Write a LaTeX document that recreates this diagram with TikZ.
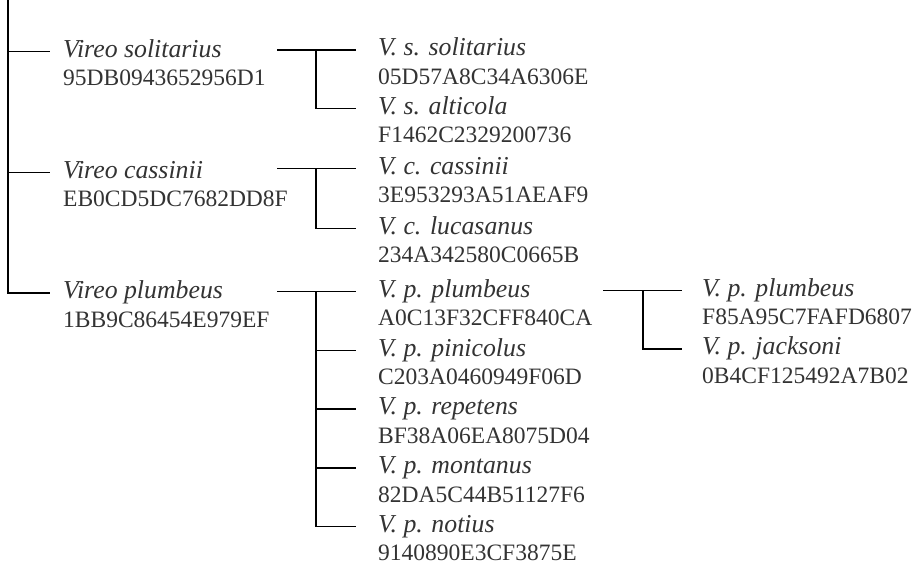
\documentclass[tikz,border=0pt]{standalone}
\usepackage{fontspec}
\setmainfont{Liberation Serif}
\begin{document}
\begin{tikzpicture}[x=1pt,y=-1pt,
  nm/.style={anchor=west, inner sep=0pt, text height=17.5pt, text depth=6pt,
    font=\fontsize{25.8}{30}\selectfont\itshape, text=black!80},
  cd/.style={anchor=base west, inner sep=0pt,
    font=\fontsize{23.5}{28}\selectfont, text=black!80},
  br/.style={line width=1.5pt, black},
  rootbr/.style={line width=2.2pt, black}]
\useasboundingbox (0,0) rectangle (923,567);
% ---------- level 1
\node[nm] (vs) at (63,51.5) {Vireo solitarius};
\node[cd] (vsc) at ([yshift=-28.5pt]vs.base west) {95DB0943652956D1};
\node[nm] (vc) at (63,172.5) {Vireo cassinii};
\node[cd] (vcc) at ([yshift=-28.5pt]vc.base west) {EB0CD5DC7682DD8F};
\node[nm] (vp) at (63,293) {Vireo plumbeus};
\node[cd] (vpc) at ([yshift=-28.5pt]vp.base west) {1BB9C86454E979EF};
% ---------- level 2
\node[nm] (ss) at (378,50) {V. s. solitarius};
\node[cd] (ssc) at ([yshift=-28.5pt]ss.base west) {05D57A8C34A6306E};
\node[nm] (sa) at (378,108.3) {V. s. alticola};
\node[cd] (sac) at ([yshift=-28.5pt]sa.base west) {F1462C2329200736};
\node[nm] (cc) at (378,168.3) {V. c. cassinii};
\node[cd] (ccc) at ([yshift=-28.5pt]cc.base west) {3E953293A51AEAF9};
\node[nm] (cl) at (378,228.3) {V. c. lucasanus};
\node[cd] (clc) at ([yshift=-28.5pt]cl.base west) {234A342580C0665B};
\node[nm] (p1) at (378,291.7) {V. p. plumbeus};
\node[cd] (p1c) at ([yshift=-28.5pt]p1.base west) {A0C13F32CFF840CA};
\node[nm] (p2) at (378,350.4) {V. p. pinicolus};
\node[cd] (p2c) at ([yshift=-28.5pt]p2.base west) {C203A0460949F06D};
\node[nm] (p3) at (378,409.1) {V. p. repetens};
\node[cd] (p3c) at ([yshift=-28.5pt]p3.base west) {BF38A06EA8075D04};
\node[nm] (p4) at (378,467.9) {V. p. montanus};
\node[cd] (p4c) at ([yshift=-28.5pt]p4.base west) {82DA5C44B51127F6};
\node[nm] (p5) at (378,526.6) {V. p. notius};
\node[cd] (p5c) at ([yshift=-28.5pt]p5.base west) {9140890E3CF3875E};
% ---------- level 3
\node[nm] (q1) at (702,290.7) {V. p. plumbeus};
\node[cd] (q1c) at ([yshift=-28.5pt]q1.base west) {F85A95C7FAFD6807};
\node[nm] (q2) at (702,349) {V. p. jacksoni};
\node[cd] (q2c) at ([yshift=-28.5pt]q2.base west) {0B4CF125492A7B02};
% ---------- connectors
\coordinate (root) at (8,0);
\draw[rootbr] (root) |- ([xshift=-13pt]vp.west);
\draw[br] (root) |- ([xshift=-13pt]vs.west);
\draw[br] (root) |- ([xshift=-13pt]vc.west);
% solitarius
\coordinate (js) at ([xshift=-101pt]ss.west);
\draw[br] (js) -- ([xshift=-22pt]ss.west);
\draw[br] ([xshift=-62pt]ss.west) |- ([xshift=-22pt]sa.west);
% cassinii
\coordinate (jc) at ([xshift=-101pt]cc.west);
\draw[br] (jc) -- ([xshift=-22pt]cc.west);
\draw[br] ([xshift=-62pt]cc.west) |- ([xshift=-22pt]cl.west);
% plumbeus
\coordinate (jp) at ([xshift=-101pt]p1.west);
\draw[br] (jp) -- ([xshift=-22pt]p1.west);
\draw[br] ([xshift=-62pt]p1.west) |- ([xshift=-22pt]p5.west);
\draw[br] ([xshift=-62pt]p2.west) -- ([xshift=-22pt]p2.west);
\draw[br] ([xshift=-62pt]p3.west) -- ([xshift=-22pt]p3.west);
\draw[br] ([xshift=-62pt]p4.west) -- ([xshift=-22pt]p4.west);
% plumbeus plumbeus
\coordinate (jq) at ([xshift=-99pt]q1.west);
\draw[br] (jq) -- ([xshift=-20pt]q1.west);
\draw[br] ([xshift=-59pt]q1.west) |- ([xshift=-20pt]q2.west);
\end{tikzpicture}
\end{document}
